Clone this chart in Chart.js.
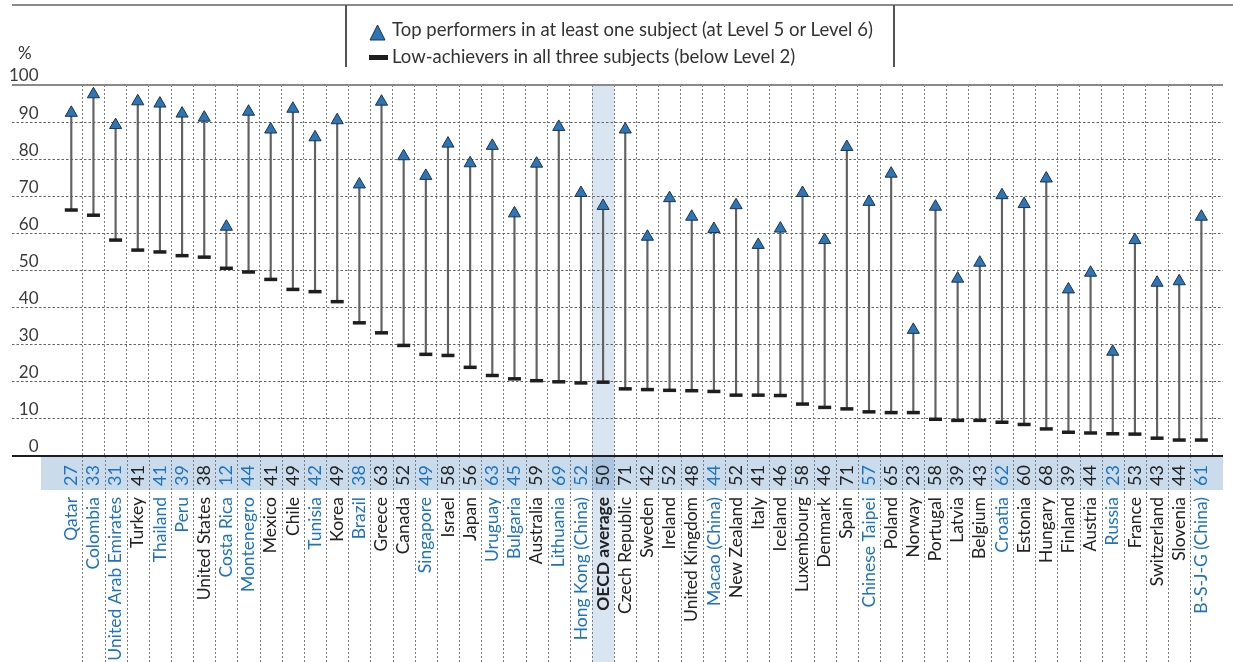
<!DOCTYPE html>
<html>
<head>
<meta charset="utf-8">
<script src="https://cdn.jsdelivr.net/npm/chart.js@4.4.1/dist/chart.umd.min.js"></script>
<style>
  body { margin: 0; background: #fff; }
  #wrap { position: relative; width: 1233px; height: 662px; font-family: Lato, "Open Sans", sans-serif; color: #333; }
  #chart { position: absolute; left: 0; top: 0; }
  .rule { position: absolute; background: #8a8a8a; }
  .legend { position: absolute; left: 369px; top: 16px; font-size: 18.5px; line-height: 27px; white-space: nowrap; }
  .legend span { display: inline-block; vertical-align: middle; }
  .tri { width: 17px; height: 17px; margin-right: 6px; position: relative; top: -2px; }
  .bar { width: 19px; height: 4.5px; background: #1e1e1e; margin-right: 4px; position: relative; top: -1px; }
  .unit { position: absolute; left: 18px; top: 42px; font-size: 17px; }
</style>
</head>
<body>
<div id="wrap">
  <canvas id="chart" width="1233" height="662"></canvas>
  <div class="rule" style="left:12px;top:4px;width:1221px;height:2px"></div>
  <div class="rule" style="left:345px;top:5px;width:1.5px;height:62px;background:#555"></div>
  <div class="rule" style="left:893px;top:5px;width:1.5px;height:62px;background:#555"></div>
  <div class="unit">%</div>
  <div class="legend">
    <div><span class="tri"><svg width="17" height="17"><polygon points="8.5,1 16,16 1,16" fill="#2e75b6" stroke="#1b3550" stroke-width="1"/></svg></span>Top performers in at least one subject (at Level 5 or Level 6)</div>
    <div><span class="bar"></span>Low-achievers in all three subjects (below Level 2)</div>
  </div>
</div>
<script>
// countries, sorted by share of low achievers
const countries = ['Qatar', 'Colombia', 'United Arab Emirates', 'Turkey', 'Thailand', 'Peru', 'United States',
  'Costa Rica', 'Montenegro', 'Mexico', 'Chile', 'Tunisia', 'Korea', 'Brazil', 'Greece', 'Canada', 'Singapore',
  'Israel', 'Japan', 'Uruguay', 'Bulgaria', 'Australia', 'Lithuania', 'Hong Kong (China)', 'OECD average',
  'Czech Republic', 'Sweden', 'Ireland', 'United Kingdom', 'Macao (China)', 'New Zealand', 'Italy', 'Iceland',
  'Luxembourg', 'Denmark', 'Spain', 'Chinese Taipei', 'Poland', 'Norway', 'Portugal', 'Latvia', 'Belgium',
  'Croatia', 'Estonia', 'Hungary', 'Finland', 'Austria', 'Russia', 'France', 'Switzerland', 'Slovenia',
  'B-S-J-G (China)'];

// partner economies are shown in blue
const partners = ['Qatar', 'Colombia', 'United Arab Emirates', 'Thailand', 'Peru', 'Costa Rica', 'Montenegro',
  'Tunisia', 'Brazil', 'Singapore', 'Uruguay', 'Bulgaria', 'Lithuania', 'Hong Kong (China)', 'Macao (China)',
  'Chinese Taipei', 'Croatia', 'Russia', 'B-S-J-G (China)'];

// top performers in at least one subject (%)
const topPerformers = [92.5, 97.5, 89.2, 95.6, 95.0, 92.3, 91.2, 61.8, 92.8, 88.0, 93.6, 85.9, 90.5, 73.2, 95.5,
  80.8, 75.5, 84.2, 78.9, 83.6, 65.4, 78.8, 88.7, 70.9, 67.4, 88.0, 59.1, 69.5, 64.5, 61.2, 67.6, 56.9, 61.3,
  70.9, 58.2, 83.3, 68.5, 76.1, 34.0, 67.2, 47.8, 52.1, 70.3, 67.9, 74.8, 44.9, 49.4, 28.1, 58.2, 46.7, 47.1, 64.5];

// low achievers in all three subjects (%)
const lowAchievers = [66.3, 64.9, 58.2, 55.5, 55.0, 54.0, 53.6, 50.6, 49.6, 47.6, 44.9, 44.3, 41.6, 35.9, 33.2,
  29.8, 27.4, 27.1, 23.9, 21.7, 20.8, 20.3, 20.0, 19.7, 19.9, 18.1, 17.9, 17.7, 17.6, 17.4, 16.4, 16.4, 16.3,
  14.0, 13.1, 12.7, 11.9, 11.7, 11.7, 9.9, 9.6, 9.6, 9.1, 8.5, 7.3, 6.4, 6.2, 6.0, 5.9, 4.8, 4.3, 4.3];

// numbers shown in the strip under the axis
const stripValues = [27, 33, 31, 41, 41, 39, 38, 12, 44, 41, 49, 42, 49, 38, 63, 52, 49, 58, 56, 63, 45, 59, 69,
  52, 50, 71, 42, 52, 48, 44, 52, 41, 46, 58, 46, 71, 57, 65, 23, 58, 39, 43, 62, 60, 68, 39, 44, 23, 53, 43, 44, 61];

const yTicks = [0, 10, 20, 30, 40, 50, 60, 70, 80, 90, 100];

const BLUE = '#1f73ba';
const DARK = '#222';
const GRID = '#7a7a7a';
const oecdIdx = countries.indexOf('OECD average');

function labelColor(ctx) {
  const i = ctx.index;
  if (i === oecdIdx) return DARK;
  return partners.includes(countries[i]) ? BLUE : DARK;
}

function setTicks(scale) {
  scale.ticks = countries.map((c, i) => ({ value: i }));
}

// background strip, OECD column and the dotted column lines under the axis
const backdrop = {
  id: 'backdrop',
  beforeDraw(chart) {
    const { ctx, chartArea: a, scales: { x } } = chart;
    const h = chart.height;
    const half = (x.getPixelForValue(1) - x.getPixelForValue(0)) / 2;
    const ox = x.getPixelForValue(oecdIdx);
    ctx.save();
    ctx.fillStyle = '#cadcec';
    ctx.fillRect(a.left + 29, x.top, a.right - a.left - 29, x.bottom - x.top);
    ctx.fillStyle = '#d9e6f2';
    ctx.fillRect(ox - half, a.top, half * 2, h - a.top);
    ctx.fillStyle = '#a9c5df';
    ctx.fillRect(ox - half, x.top, half * 2, x.bottom - x.top);
    ctx.strokeStyle = GRID;
    ctx.lineWidth = 1;
    ctx.setLineDash([2, 2]);
    for (let i = 0; i < countries.length - 1; i++) {
      const px = Math.round(x.getPixelForValue(i + 0.5)) + 0.5;
      ctx.beginPath();
      ctx.moveTo(px, a.bottom);
      ctx.lineTo(px, h);
      ctx.stroke();
    }
    ctx.restore();
  }
};

const idx = countries.map((c, i) => i);

new Chart(document.getElementById('chart'), {
  type: 'bar',
  data: {
    datasets: [
      {
        type: 'scatter',
        label: 'Top performers in at least one subject (at Level 5 or Level 6)',
        data: idx.map(i => ({ x: i, y: topPerformers[i] })),
        pointStyle: 'triangle',
        radius: 7,
        backgroundColor: '#2e75b6',
        borderColor: '#1b3550',
        borderWidth: 1,
        order: 1
      },
      {
        type: 'scatter',
        label: 'Low-achievers in all three subjects (below Level 2)',
        data: idx.map(i => ({ x: i, y: lowAchievers[i] })),
        pointStyle: 'line',
        radius: 6.5,
        borderColor: '#1e1e1e',
        borderWidth: 3.5,
        order: 2
      },
      {
        type: 'bar',
        label: 'range',
        data: idx.map(i => ({ x: i, y: [lowAchievers[i], topPerformers[i]] })),
        backgroundColor: '#616161',
        barThickness: 1.5,
        order: 3
      }
    ]
  },
  options: {
    responsive: false,
    animation: false,
    events: [],
    layout: { padding: { top: 85, left: 12, right: 0, bottom: 0 } },
    plugins: { legend: { display: false }, tooltip: { enabled: false } },
    scales: {
      x: {
        type: 'linear',
        position: 'bottom',
        weight: 0,
        min: -2.15,
        max: 51.45,
        afterBuildTicks: setTicks,
        afterFit(s) { s.height = 34; s.paddingLeft = 0; s.paddingRight = 0; },
        grid: {
          offset: true,
          drawTicks: false,
          color: ctx => (ctx.index === 0 ? 'rgba(0,0,0,0)' : GRID),
          lineWidth: 1
        },
        border: { display: false, dash: [2, 2] },
        ticks: {
          autoSkip: false,
          minRotation: 90,
          maxRotation: 90,
          padding: 9,
          color: labelColor,
          font: { family: 'Lato', size: 18 },
          callback: (v, i) => String(stripValues[i])
        }
      },
      x2: {
        type: 'linear',
        position: 'bottom',
        weight: 1,
        min: -2.15,
        max: 51.45,
        afterBuildTicks: setTicks,
        afterFit(s) { s.height = 172; s.paddingLeft = 0; s.paddingRight = 0; },
        grid: { display: false, drawTicks: false },
        border: { display: false },
        ticks: {
          autoSkip: false,
          minRotation: 90,
          maxRotation: 90,
          padding: 7,
          color: labelColor,
          font: ctx => ({ family: 'Lato', size: 17.5, weight: ctx.index === oecdIdx ? 'bold' : 'normal' }),
          callback: (v, i) => countries[i]
        }
      },
      y: {
        min: 0,
        max: 100,
        afterBuildTicks(s) { s.ticks = yTicks.map(v => ({ value: v })); },
        afterFit(s) { s.width = 0; },
        grid: {
          drawTicks: false,
          color: ctx => (ctx.tick.value === 0 ? '#1e1e1e' : ctx.tick.value === 100 ? '#8a8a8a' : '#666'),
          lineWidth: ctx => (ctx.tick.value === 0 || ctx.tick.value === 100 ? 2 : 1)
        },
        border: {
          display: false,
          dash: ctx => (ctx.tick.value === 0 || ctx.tick.value === 100 ? [] : [2.5, 2])
        },
        ticks: {
          mirror: true,
          crossAlign: 'far',
          padding: -3,
          labelOffset: -9,
          color: '#3a3a3a',
          font: { family: 'Lato', size: 17 }
        }
      }
    }
  },
  plugins: [backdrop]
});
</script>
</body>
</html>
